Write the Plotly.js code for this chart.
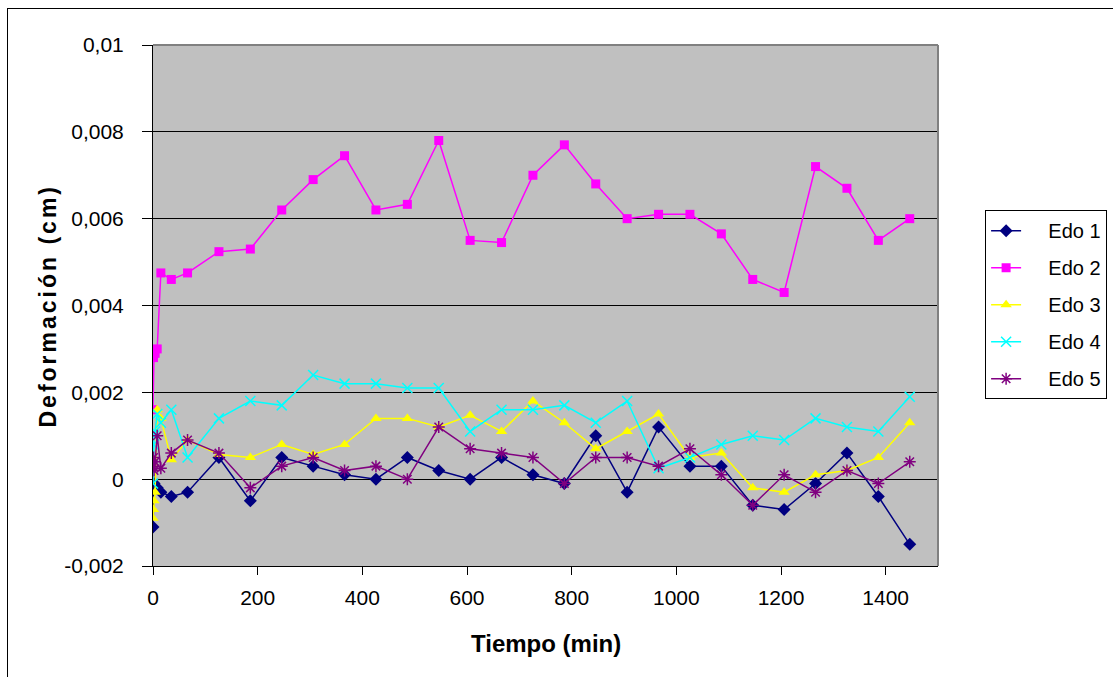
<!DOCTYPE html>
<html>
<head>
<meta charset="utf-8">
<script src="https://cdn.plot.ly/plotly-3.0.1.min.js"></script>
<style>
html,body{margin:0;padding:0;background:#fff;}
#frame{position:absolute;left:7px;top:8px;width:1200px;height:700px;border:1px solid #000;}
#chart{position:absolute;left:0;top:0;width:1113px;height:677px;}
</style>
</head>
<body>
<div id="frame"></div>
<div id="chart"></div>
<script>
const tiempo = [0, 1, 2, 4, 8, 15, 35, 66, 126, 186, 246, 306, 366, 426, 486, 546, 606, 666, 726, 786, 846, 906, 966, 1026, 1086, 1146, 1206, 1266, 1326, 1386, 1446];
const edo1 = [-0.0011, -0.0002, -0.0001, -0.0002, -0.0002, -0.0003, -0.0004, -0.0003, 0.0005, -0.0005, 0.0005, 0.0003, 0.0001, 0.0, 0.0005, 0.0002, 0.0, 0.0005, 0.0001, -0.0001, 0.001, -0.0003, 0.0012, 0.0003, 0.0003, -0.0006, -0.0007, -0.0001, 0.0006, -0.0004, -0.0015];
const edo2 = [0.0016, 0.0028, 0.0029, 0.0029, 0.003, 0.00475, 0.0046, 0.00475, 0.00524, 0.0053, 0.0062, 0.0069, 0.00745, 0.0062, 0.00633, 0.0078, 0.0055, 0.00545, 0.007, 0.0077, 0.0068, 0.006, 0.0061, 0.0061, 0.00565, 0.0046, 0.0043, 0.0072, 0.0067, 0.0055, 0.006];
const edo3 = [-0.0009, -0.0007, -0.0005, -0.0003, 0.0016, 0.0014, 0.00045, 0.0009, 0.00057, 0.0005, 0.0008, 0.00057, 0.0008, 0.0014, 0.0014, 0.0012, 0.00147, 0.0011, 0.0018, 0.0013, 0.0007, 0.0011, 0.0015, 0.0005, 0.0006, -0.0002, -0.0003, 0.0001, 0.0002, 0.0005, 0.0013];
const edo4 = [-0.0001, 0.0008, 0.001, 0.0011, 0.0015, 0.0013, 0.0016, 0.0005, 0.0014, 0.0018, 0.0017, 0.0024, 0.0022, 0.0022, 0.0021, 0.0021, 0.0011, 0.0016, 0.0016, 0.0017, 0.0013, 0.0018, 0.00025, 0.0005, 0.0008, 0.001, 0.0009, 0.0014, 0.0012, 0.0011, 0.0019];
const edo5 = [0.0003, 0.0005, 0.0002, 0.0004, 0.001, 0.00025, 0.0006, 0.0009, 0.0006, -0.0002, 0.0003, 0.0005, 0.0002, 0.0003, 0.0, 0.0012, 0.0007, 0.0006, 0.0005, -0.0001, 0.0005, 0.0005, 0.0003, 0.0007, 0.0001, -0.0006, 0.0001, -0.0003, 0.0002, -0.0001, 0.0004];
const seriesNames = ['Edo 1', 'Edo 2', 'Edo 3', 'Edo 4', 'Edo 5'];
const yTickVals = [-0.002, 0, 0.002, 0.004, 0.006, 0.008, 0.01];
const yTickText = ['-0,002', '0', '0,002', '0,004', '0,006', '0,008', '0,01'];
const xTickVals = [0, 200, 400, 600, 800, 1000, 1200, 1400];

const colors = ['#000080', '#FF00FF', '#FFFF00', '#00FFFF', '#800080'];
const symbols = ['diamond', 'square', 'triangle-up', 'x-thin-open', 'asterisk-open'];
const sizes = [10, 9, 10, 10, 10];
const dataArr = [edo1, edo2, edo3, edo4, edo5];

const traces = dataArr.map((ys, i) => ({
  x: tiempo, y: ys, name: '\u00a0\u00a0\u00a0\u00a0' + seriesNames[i], type: 'scatter', mode: 'lines+markers',
  legendgroup: 'g' + i,
  line: {color: colors[i], width: 1.5},
  marker: {symbol: symbols[i], size: sizes[i], color: colors[i], line: {color: colors[i], width: (i >= 3 ? 1.5 : 0)}}
}));

const font = 'Liberation Sans, Arial, sans-serif';
const layout = {
  width: 1113, height: 677,
  margin: {l: 153, r: 175, t: 45, b: 111, autoexpand: false},
  paper_bgcolor: 'rgba(0,0,0,0)',
  plot_bgcolor: '#C0C0C0',
  showlegend: true,
  font: {family: font, color: '#000'},
  xaxis: {
    range: [0, 1500], tickvals: xTickVals, ticks: 'outside', ticklen: 8, tickcolor: '#000',
    showline: true, linecolor: '#000', linewidth: 1, showgrid: false, zeroline: false,
    tickfont: {size: 21, family: font}, ticklabelstandoff: 5
  },
  yaxis: {
    range: [-0.002, 0.01], tickvals: yTickVals, ticktext: yTickText, ticks: 'outside', ticklen: 10,
    tickcolor: '#000', showline: true, linecolor: '#000', linewidth: 1,
    showgrid: true, gridcolor: '#000', gridwidth: 1, zeroline: true, zerolinecolor: '#000', zerolinewidth: 1,
    tickfont: {size: 21, family: font}, ticklabelstandoff: 14
  },
  legend: {
    x: 1.06, xanchor: 'left', y: 0.683, yanchor: 'top',
    bgcolor: '#fff', bordercolor: '#000', borderwidth: 1,
    font: {size: 20, family: font}, traceorder: 'grouped', tracegroupgap: 8
  },
  shapes: [
    {type: 'line', xref: 'paper', yref: 'paper', x0: 0, x1: 1, y0: 1, y1: 1, line: {color: '#808080', width: 2}, layer: 'above'},
    {type: 'line', xref: 'paper', yref: 'paper', x0: 1, x1: 1, y0: 0, y1: 1, line: {color: '#808080', width: 2}, layer: 'above'}
  ],
  annotations: [
    {text: '<b>Tiempo (min)</b>', xref: 'paper', yref: 'paper', x: 0.5, y: -0.148, showarrow: false,
     font: {size: 24, family: font}, xanchor: 'center', yanchor: 'middle'},
    {text: '<b><span style="letter-spacing:3px">Deformación (cm)</span></b>', xref: 'paper', yref: 'paper', x: -0.135, y: 0.5, showarrow: false,
     textangle: -90, font: {size: 23, family: font}, xanchor: 'center', yanchor: 'middle'}
  ]
};
Plotly.newPlot('chart', traces, layout, {displayModeBar: false, staticPlot: true});
</script>
</body>
</html>
